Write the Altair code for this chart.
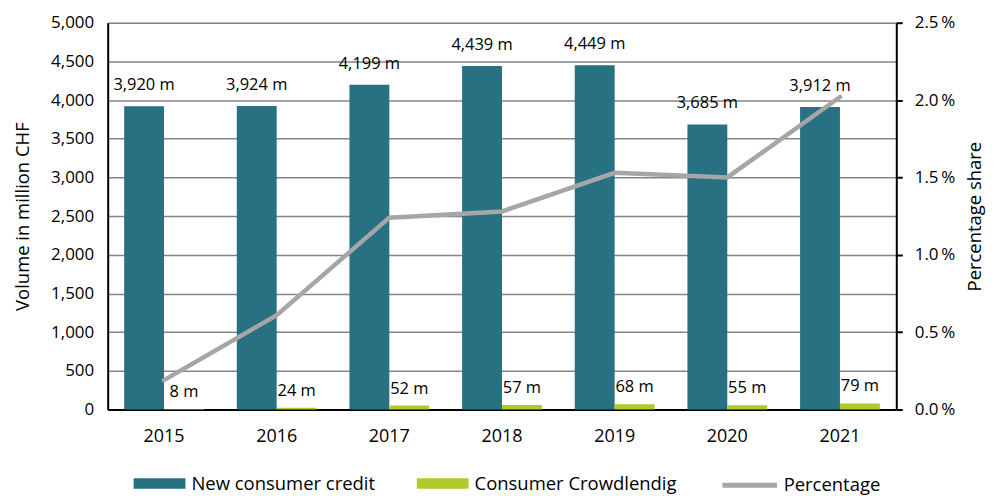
import altair as alt
import pandas as pd

years = ["2015", "2016", "2017", "2018", "2019", "2020", "2021"]
credit = [3920, 3924, 4199, 4439, 4449, 3685, 3912]
crowd = [8, 24, 52, 57, 68, 55, 79]
pct = [0.19, 0.61, 1.24, 1.28, 1.53, 1.50, 2.02]
series = ["New consumer credit", "Consumer Crowdlendig"]
line_name = "Percentage"

TEAL = "#277183"
GREEN = "#AFCA2B"
GREY = "#A6A6A6"
FONT = "Open Sans"
FS = 17
TFS = 18.5
LFS = 18.5

rows = []
for i, y in enumerate(years):
    rows.append({"year": y, "series": series[0], "value": credit[i]})
    rows.append({"year": y, "series": series[1], "value": crowd[i]})
bars_df = pd.DataFrame(rows)
line_df = pd.DataFrame({"year": years, "pct": pct, "name": [line_name] * len(years)})

x_enc = alt.X("year:N", title=None,
              scale=alt.Scale(paddingInner=0.292, paddingOuter=0.146),
              axis=alt.Axis(labelAngle=0, labelFontSize=18, labelFont=FONT, labelColor="#000",
                            ticks=False, domainColor="#000", domainWidth=2, labelPadding=18))
xoff = alt.XOffset("series:N", sort=series)
y_axis = alt.Axis(values=list(range(0, 5001, 500)),
                  labelExpr="format(datum.value, ',')", grid=True, labelOverlap=False,
                  gridColor="#858585", gridWidth=1.5, ticks=False,
                  domainColor="#000", domainWidth=2, labelPadding=14,
                  labelFontSize=FS, labelFont=FONT, labelColor="#000",
                  titleFontSize=TFS, titleFont=FONT, titleFontWeight="normal",
                  titleColor="#000", titlePadding=18)
y_scale = alt.Scale(domain=[0, 5000], nice=False)
y_enc = alt.Y("value:Q", title="Volume in million CHF", scale=y_scale, axis=y_axis)

bars = alt.Chart(bars_df).mark_bar().encode(
    x=x_enc, xOffset=xoff, y=y_enc,
    color=alt.Color("series:N", sort=series,
                    scale=alt.Scale(domain=series, range=[TEAL, GREEN]),
                    legend=alt.Legend(title=None, orient="none", direction="horizontal",
                                      legendX=25, legendY=435,
                                      symbolType="M-1,-0.2H1V0.2H-1Z", symbolSize=2700,
                                      labelFontSize=LFS, labelFont=FONT, labelColor="#000",
                                      labelLimit=400, columnPadding=40, labelOffset=5)),
)

label_expr = "format(datum.value, ',') + ' m'"
txt_credit = alt.Chart(bars_df).transform_filter(
    alt.datum.series == series[0]
).transform_calculate(lab=label_expr).mark_text(
    baseline="bottom", dy=-13, fontSize=16.5, font=FONT, color="#000"
).encode(x=alt.X("year:N"), xOffset=xoff, y=y_enc, text="lab:N")

txt_crowd = alt.Chart(bars_df).transform_filter(
    alt.datum.series == series[1]
).transform_calculate(lab=label_expr).mark_text(
    baseline="bottom", dy=-9, fontSize=16.5, font=FONT, color="#000"
).encode(x=alt.X("year:N"), xOffset=xoff, y=y_enc, text="lab:N")

line = alt.Chart(line_df).mark_line(strokeWidth=4.5, strokeCap="round").encode(
    x=alt.X("year:N"),
    y=alt.Y("pct:Q", title="Percentage share",
            scale=alt.Scale(domain=[0, 2.5], nice=False),
            axis=alt.Axis(orient="right", values=[0, 0.5, 1.0, 1.5, 2.0, 2.5],
                          labelExpr="format(datum.value, '.1f') + '\u2009%'", grid=False,
                          labelOverlap=False,
                          domainColor="#000", domainWidth=2, tickColor="#000", tickWidth=2,
                          tickSize=6, labelPadding=12,
                          labelFontSize=FS, labelFont=FONT, labelColor="#000",
                          titleFontSize=TFS, titleFont=FONT, titleFontWeight="normal",
                          titleColor="#000", titlePadding=30, titleAngle=270)),
    stroke=alt.Stroke("name:N", scale=alt.Scale(domain=[line_name], range=[GREY]),
                      legend=alt.Legend(title=None, orient="none", legendX=614, legendY=434,
                                        symbolType="stroke",
                                        symbolStrokeWidth=5, symbolSize=3000,
                                        labelFontSize=LFS, labelFont=FONT, labelColor="#000",
                                        labelLimit=300, labelOffset=4)),
)

left = alt.layer(bars, txt_credit, txt_crowd)
chart = alt.layer(left, line).resolve_scale(y="independent").properties(
    width=791, height=388
).configure_view(stroke=None).configure(background="white")

chart.save("out.html", embed_options={"renderer": "svg", "actions": False})
